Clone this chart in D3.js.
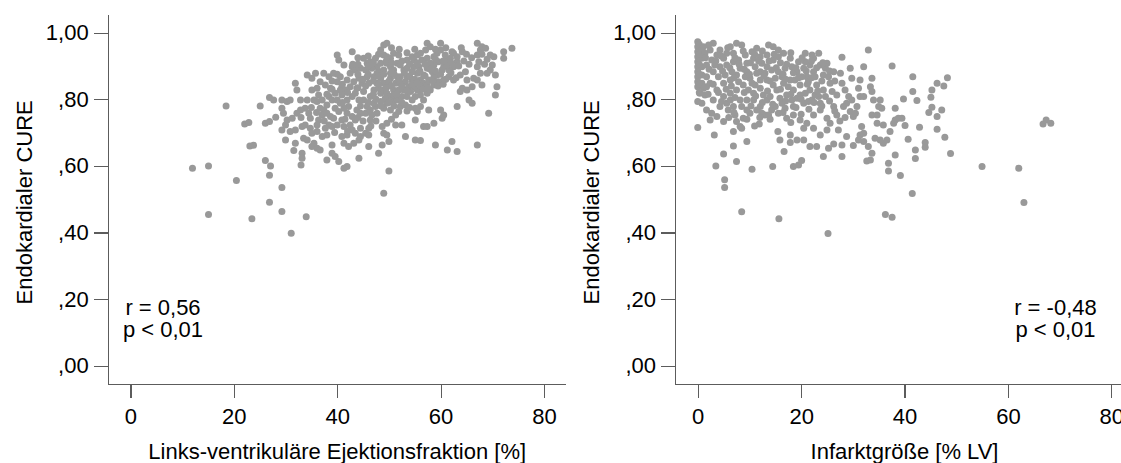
<!DOCTYPE html>
<html>
<head>
<meta charset="utf-8">
<script src="https://cdn.jsdelivr.net/npm/d3@7"></script>
<style>
  html, body { margin: 0; padding: 0; background: #fff; }
  svg { display: block; font-family: Arial, "Liberation Sans", sans-serif; }
</style>
</head>
<body>
<svg id="chart" width="1121" height="463"></svg>
<script>
// Endocardial CURE vs. LV ejection fraction [%, CURE]
const efPoints = [
  [12.0,0.593],[15.1,0.600],[15.1,0.454],[18.5,0.780],[20.5,0.556],[22.1,0.726],[22.9,0.730],[23.1,0.660],[23.8,0.662],[23.5,0.441],
  [25.1,0.780],[26.1,0.728],[26.9,0.805],[27.7,0.798],[26.1,0.616],[27.1,0.600],[26.9,0.572],[26.9,0.491],[26.9,0.733],[28.1,0.746],
  [29.3,0.798],[29.3,0.773],[30.3,0.793],[30.9,0.798],[29.6,0.758],[30.3,0.738],[31.3,0.743],[30.0,0.723],[29.3,0.708],[30.9,0.703],
  [31.9,0.708],[30.0,0.678],[31.9,0.668],[31.6,0.646],[33.2,0.638],[33.2,0.623],[33.0,0.603],[29.3,0.535],[29.3,0.463],[31.1,0.398],[34.0,0.447],
  [31.9,0.848],[32.2,0.828],[32.9,0.798],[33.8,0.773],[34.2,0.798],[34.5,0.758],[34.8,0.743],[33.2,0.718],[33.8,0.723],[34.8,0.713],
  [35.1,0.698],[33.5,0.683],[34.2,0.678],[35.5,0.668],[35.1,0.658],[36.1,0.653],[36.7,0.648],
  [34.2,0.873],[35.1,0.863],[35.8,0.878],[35.1,0.828],[35.5,0.798],[36.1,0.793],[36.4,0.813],[36.7,0.773],[37.4,0.768],[37.1,0.753],
  [36.4,0.738],[36.1,0.723],[38.0,0.758],[38.7,0.748],[38.4,0.723],[37.7,0.713],[38.0,0.693],
  [37.4,0.878],[38.4,0.868],[39.3,0.878],[37.7,0.843],[38.7,0.833],[38.4,0.808],[39.0,0.798],[40.0,0.798],[39.6,0.773],[40.3,0.763],
  [39.3,0.743],[39.0,0.718],[40.0,0.723],[41.3,0.718],[40.9,0.738],
  [40.0,0.933],[40.3,0.918],[41.3,0.903],[42.9,0.943],[40.6,0.868],[40.0,0.853],[40.9,0.838],[40.6,0.828],[40.9,0.813],[41.9,0.858],
  [42.5,0.878],[42.9,0.898],[43.5,0.888],[44.5,0.893],[45.1,0.923],[45.8,0.908],[44.2,0.863],[43.8,0.833],[42.9,0.808],[42.2,0.778],
  [41.3,0.773],[41.9,0.758],[42.9,0.748],[43.8,0.768],[44.5,0.758],[43.5,0.738],[42.5,0.723],[42.9,0.708],[43.5,0.698],[44.5,0.713],
  [41.9,0.693],[40.9,0.688],[41.3,0.668],[42.2,0.658],[43.2,0.668],[44.2,0.678],[44.5,0.688],[45.5,0.698],[46.1,0.713],[46.1,0.693],
  [46.4,0.738],[45.5,0.758],[45.8,0.778],[45.1,0.798],[46.4,0.808],[47.1,0.828],[46.1,0.848],[44.8,0.848],[47.7,0.848],[48.4,0.863],
  [47.1,0.868],[48.4,0.883],[47.7,0.898],[48.4,0.908],[47.4,0.923],[48.4,0.948],[49.0,0.963],[49.6,0.968],[49.0,0.933],[49.6,0.928],
  [50.3,0.923],[49.6,0.908],[50.3,0.898],[50.9,0.888],[51.6,0.908],[51.6,0.868],[50.3,0.863],[49.6,0.848],[49.0,0.828],[48.4,0.818],
  [49.6,0.818],[50.9,0.828],[50.3,0.808],[50.9,0.798],[49.6,0.788],[49.0,0.773],[50.3,0.768],[51.3,0.753],[51.9,0.763],[51.6,0.798],
  [52.2,0.778],[52.9,0.828],[52.2,0.848],[53.2,0.853],[53.8,0.838],[53.5,0.868],[52.9,0.888],[52.2,0.903],[53.5,0.918],[54.5,0.928],
  [54.8,0.918],[55.5,0.933],[56.1,0.938],[57.1,0.948],[57.4,0.968],[58.0,0.958],[59.3,0.938],[60.0,0.968],[60.0,0.948],[60.9,0.933],
  [61.3,0.918],[62.5,0.938],[62.2,0.943],[64.2,0.943],[63.2,0.913],[62.5,0.898],[61.6,0.888],[60.6,0.898],[59.6,0.913],[58.7,0.903],
  [58.0,0.908],[57.4,0.893],[56.7,0.873],[56.1,0.858],[54.8,0.898],[55.5,0.878],[54.5,0.858],[54.8,0.838],[55.5,0.828],[56.1,0.813],
  [56.7,0.798],[57.4,0.818],[58.0,0.828],[58.7,0.843],[59.6,0.853],[60.6,0.858],[61.6,0.868],[62.5,0.858],[63.8,0.873],[64.8,0.883],
  [65.1,0.858],[64.2,0.833],[63.8,0.823],[65.1,0.828],[66.1,0.838],[66.4,0.863],[67.1,0.858],[67.7,0.878],[68.0,0.843],[67.1,0.898],
  [67.4,0.913],[67.1,0.933],[67.7,0.948],[67.1,0.968],[68.0,0.958],[68.7,0.953],[69.6,0.933],[70.3,0.928],[70.0,0.903],[69.6,0.888],
  [69.0,0.878],[70.6,0.873],[70.9,0.838],[70.6,0.813],[72.2,0.943],[72.2,0.923],[73.8,0.953],[65.5,0.798],[66.1,0.788],[63.2,0.778],
  [69.3,0.758],[67.1,0.663],[62.2,0.673],[61.3,0.648],[63.2,0.643],[59.0,0.663],[57.4,0.718],[58.7,0.728],[56.7,0.718],[60.3,0.743],
  [60.6,0.753],[60.0,0.768],[57.7,0.768],[56.1,0.778],[55.1,0.773],[55.5,0.763],[55.1,0.738],[53.2,0.688],[53.2,0.783],[52.5,0.723],
  [51.3,0.723],[49.6,0.728],[48.7,0.718],[49.0,0.698],[49.6,0.693],[50.0,0.673],[48.7,0.663],[48.0,0.638],[46.1,0.658],[44.2,0.623],
  [41.9,0.598],[41.3,0.593],[40.3,0.613],[39.6,0.628],[39.0,0.638],[39.0,0.663],[38.0,0.618],[50.0,0.585],[49.0,0.518],[55.1,0.678],[56.1,0.676],
  [47.7,0.878],[49.0,0.888],[50.3,0.878],[51.3,0.848],[51.9,0.828],[52.5,0.808],[50.9,0.813],[49.0,0.848],[48.0,0.833],[49.3,0.803],
  [52.2,0.868],[53.5,0.893],[54.5,0.883],[55.8,0.898],[56.4,0.918],[57.4,0.923],[58.7,0.928],[58.4,0.883],[59.3,0.873],[60.3,0.888],
  [61.3,0.903],[61.9,0.923],[63.2,0.928],[56.7,0.848],[57.7,0.858],[58.7,0.868],[53.5,0.808],[54.5,0.798],[55.1,0.808],[56.1,0.838],
  [57.4,0.843],[54.2,0.823],[48.4,0.793],[47.4,0.778],[46.4,0.768],[47.1,0.788],[47.7,0.758],[46.7,0.753],[45.1,0.823],[44.2,0.798],
  [43.5,0.818],[42.5,0.838],[43.2,0.853],[41.6,0.828],[41.9,0.798],[40.6,0.788],[39.6,0.818],[38.0,0.783],[37.1,0.798],[36.1,0.833],
  [36.7,0.853],[32.9,0.768],[32.2,0.758],[36.1,0.703],[37.1,0.688],[45.8,0.868],[46.7,0.893],[46.4,0.913],[45.5,0.888],[50.9,0.938],[51.9,0.933],
  [44.0,0.875],[45.0,0.860],[46.0,0.875],[47.0,0.855],[48.0,0.870],[49.0,0.875],[50.0,0.855],[51.0,0.875],[52.0,0.855],[53.0,0.880],
  [54.0,0.870],[55.0,0.860],[56.0,0.885],[57.0,0.870],[58.0,0.890],[59.0,0.885],[60.0,0.875],[61.0,0.860],[62.0,0.880],[63.0,0.865],
  [44.0,0.835],[45.5,0.840],[47.0,0.815],[48.0,0.845],[49.5,0.835],[50.5,0.840],[51.5,0.815],[52.5,0.840],[53.5,0.825],[54.5,0.845],
  [55.5,0.850],[56.5,0.830],[57.5,0.835],[58.5,0.855],[59.5,0.840],[60.5,0.845],
  [43.0,0.905],[44.0,0.905],[46.0,0.900],[47.0,0.910],[49.5,0.915],[50.5,0.910],[52.5,0.915],[54.0,0.905],[55.5,0.910],[57.0,0.905],
  [59.0,0.920],[60.5,0.915],[62.0,0.910],[63.5,0.900],[64.5,0.915],[65.5,0.905],[66.0,0.925],[68.5,0.905],[69.0,0.920],[68.0,0.935],
  [65.0,0.935],[64.0,0.955],[61.0,0.955],[59.0,0.950],[55.0,0.950],[53.5,0.940],[52.0,0.950],[50.5,0.955],[48.0,0.935],[46.0,0.930],[44.0,0.925],
  [40.0,0.875],[39.0,0.855],[41.0,0.845],[42.0,0.820],[39.0,0.830],[38.0,0.815],[41.0,0.790],[44.5,0.780],[46.0,0.790],[48.5,0.780],
  [50.0,0.790],[52.5,0.790],[53.5,0.765],[54.0,0.775],[51.0,0.780],[47.5,0.800],[36.0,0.760],[35.0,0.775],[33.0,0.745],[37.5,0.735],
  [39.5,0.700],[42.0,0.705],[45.0,0.735],[47.5,0.735],[50.5,0.740],[46.5,0.720],[44.0,0.745],[41.5,0.740]
];

// Endocardial CURE vs. infarct size [% LV, CURE]
const infarctPoints = [
  [0,0.973],[0,0.958],[0,0.943],[0,0.928],[0,0.913],[0,0.898],[0,0.883],[0,0.868],[0,0.853],[0,0.838],
  [0.8,0.948],[0.8,0.923],[0.8,0.898],[0.8,0.873],[0.8,0.848],[0.3,0.965],[0.3,0.935],[0.3,0.905],[0.3,0.875],[0.3,0.845],[0.3,0.820],
  [0,0.793],[0,0.715],[1.4,0.813],[1.7,0.768],[2.7,0.758],[2.4,0.738],[3.2,0.693],[3.5,0.600],[5.0,0.636],[5.2,0.558],[5.2,0.535],
  [5.0,0.733],[6.9,0.703],[6.9,0.660],[7.5,0.613],[8.5,0.462],[8.2,0.718],[8.5,0.713],[9.5,0.673],[10.5,0.590],[14.5,0.598],[15.7,0.441],
  [11.9,0.726],[13.0,0.753],[14.3,0.768],[13.7,0.753],[15.5,0.703],[15.9,0.678],[16.7,0.643],[18.5,0.598],[19.5,0.603],[20.1,0.616],
  [17.9,0.670],[17.9,0.693],[19.2,0.678],[20.5,0.678],[21.7,0.658],[23.0,0.658],[24.3,0.628],[25.3,0.653],[26.3,0.666],
  [25.2,0.397],[23.7,0.693],[25.0,0.708],[25.6,0.728],[27.2,0.708],[26.9,0.813],[26.3,0.778],[26.9,0.753],[25.0,0.743],[23.7,0.768],
  [22.4,0.753],[21.1,0.728],[20.5,0.713],[19.8,0.738],[18.5,0.753],[17.2,0.743],[18.5,0.778],[19.2,0.803],[20.5,0.788],[22.1,0.798],
  [23.4,0.808],[24.3,0.828],[25.6,0.848],[26.3,0.883],[24.7,0.893],[25.0,0.908],[23.4,0.938],[22.4,0.923],[20.8,0.938],[23.7,0.903],
  [22.4,0.883],[21.1,0.868],[19.8,0.843],[18.5,0.828],[17.2,0.813],[15.9,0.803],[15.3,0.828],[16.6,0.848],[17.9,0.858],[19.2,0.883],
  [20.5,0.893],[21.7,0.903],[17.9,0.923],[16.6,0.938],[15.6,0.928],[13.7,0.963],[14.6,0.918],[13.4,0.898],[12.1,0.883],[13.4,0.858],
  [14.6,0.843],[12.1,0.833],[10.8,0.818],[9.5,0.798],[10.8,0.798],[12.1,0.778],[12.4,0.758],[10.1,0.758],[8.8,0.743],[7.5,0.733],
  [5.9,0.768],[5.6,0.788],[4.3,0.778],[3.0,0.798],[3.7,0.828],[2.4,0.848],[1.7,0.868],[3.0,0.883],[4.3,0.898],[5.6,0.903],
  [6.9,0.913],[5.6,0.938],[4.3,0.948],[3.0,0.968],[2.1,0.963],[3.7,0.933],[2.7,0.918],[1.7,0.903],[5.0,0.848],[6.3,0.858],
  [7.5,0.873],[8.2,0.893],[9.5,0.908],[10.8,0.923],[12.1,0.928],[13.4,0.933],[9.2,0.933],[8.5,0.963],[7.5,0.968],[6.3,0.958],
  [11.4,0.878],[10.1,0.863],[8.8,0.843],[7.5,0.828],[6.3,0.818],[5.0,0.808],[8.2,0.798],[6.9,0.778],[10.5,0.848],[9.5,0.883],
  [15.6,0.883],[16.9,0.893],[23.0,0.843],[21.7,0.828],[20.8,0.818],[23.7,0.788],[22.4,0.713],[16.3,0.788],[15.0,0.778],[13.4,0.798],
  [9.5,0.768],[4.6,0.793],[3.7,0.748],
  [1.1,0.958],[1.4,0.938],[2.4,0.948],[3.3,0.903],[4.0,0.868],[5.3,0.873],[6.6,0.883],[7.9,0.853],[9.2,0.868],[9.8,0.828],
  [11.1,0.843],[12.1,0.858],[13.0,0.878],[14.3,0.888],[15.0,0.863],[16.3,0.868],[17.5,0.838],[18.8,0.858],[20.1,0.868],[21.4,0.853],
  [22.7,0.868],[24.3,0.873],[25.3,0.868],[26.0,0.823],[24.7,0.808],[22.7,0.813],[21.4,0.793],[19.8,0.813],[18.2,0.798],[16.9,0.773],
  [15.6,0.758],[14.0,0.808],[12.7,0.813],[11.4,0.768],[8.5,0.778],[7.2,0.753],[6.3,0.798],[18.2,0.898],[19.5,0.913],[20.8,0.913],
  [22.1,0.933],[14.6,0.958],[15.6,0.948],[11.4,0.953],[10.5,0.943],[12.4,0.908],[11.1,0.898],[6.9,0.938],[7.9,0.918],[5.0,0.923],
  [0.4,0.818],[1.1,0.833],[0.8,0.788],[1.7,0.838],
  [1.5,0.925],[2.2,0.890],[3.5,0.915],[4.5,0.930],[4.8,0.885],[5.8,0.955],[6.2,0.895],[7.2,0.925],[7.0,0.865],[8.0,0.905],
  [8.8,0.945],[9.0,0.890],[10.2,0.910],[10.0,0.875],[11.0,0.935],[11.8,0.915],[12.5,0.945],[12.8,0.870],[13.8,0.915],[14.0,0.855],
  [14.8,0.935],[15.2,0.895],[16.0,0.910],[16.5,0.875],[17.2,0.905],[17.0,0.860],[18.0,0.940],[18.5,0.880],[19.0,0.895],[19.5,0.865],
  [20.2,0.925],[21.0,0.885],[21.2,0.845],[22.0,0.915],[22.0,0.865],[23.0,0.895],[23.2,0.825],[24.0,0.855],[24.2,0.910],[25.5,0.885],
  [26.5,0.855],[2.0,0.815],[3.0,0.845],[4.0,0.820],[5.5,0.830],[6.5,0.840],[7.2,0.805],[9.0,0.820],[10.3,0.780],[11.2,0.810],
  [12.5,0.790],[13.5,0.825],[14.5,0.785],[16.0,0.830],[17.0,0.795],[18.0,0.815],[19.0,0.775],[20.0,0.800],[21.5,0.770],[22.5,0.790],
  [24.0,0.780],[25.5,0.795],[26.5,0.765],[28.5,0.745],[27.5,0.735],[16.5,0.760],[18.0,0.730],[20.0,0.755],[14.0,0.740],[12.0,0.745],
  [11.0,0.720],[9.5,0.740],[7.0,0.760],[6.0,0.745],
  [27.9,0.926],[27.6,0.878],[27.9,0.848],[28.5,0.828],[29.2,0.808],[28.8,0.788],[28.2,0.778],[29.5,0.763],[30.1,0.748],[29.8,0.798],
  [30.8,0.778],[30.5,0.758],[31.4,0.808],[32.1,0.808],[31.1,0.833],[31.4,0.858],[29.8,0.863],[29.5,0.893],[32.1,0.898],[33.0,0.948],
  [33.7,0.863],[33.4,0.838],[33.7,0.823],[34.0,0.798],[35.3,0.798],[35.0,0.778],[35.6,0.773],[33.7,0.753],[34.7,0.753],[34.7,0.728],
  [35.9,0.723],[38.2,0.773],[39.8,0.801],[37.6,0.900],[41.6,0.868],[41.6,0.823],[42.4,0.796],[45.3,0.828],[46.3,0.848],[47.6,0.840],
  [48.3,0.865],[45.1,0.806],[45.3,0.776],[44.7,0.760],[47.2,0.768],[46.3,0.748],[38.2,0.738],[38.8,0.743],[39.5,0.743],[37.9,0.728],
  [40.1,0.721],[42.9,0.716],[46.3,0.710],[47.8,0.686],[48.9,0.637],[44.0,0.670],[44.0,0.656],[42.1,0.648],[42.1,0.622],[40.7,0.680],
  [38.2,0.633],[36.9,0.608],[36.9,0.585],[39.2,0.571],[41.5,0.517],[36.3,0.454],[37.6,0.446],[55.0,0.598],[62.1,0.593],[63.1,0.490],
  [66.8,0.726],[67.4,0.738],[68.3,0.728],[35.9,0.668],[35.3,0.678],[34.3,0.683],[33.7,0.638],[33.4,0.618],[32.7,0.615],[33.0,0.658],
  [32.1,0.673],[31.1,0.678],[30.1,0.661],[28.8,0.688],[27.9,0.663],[27.9,0.628],[31.4,0.693],[31.7,0.718],[32.1,0.698],[37.2,0.703],[36.6,0.678]
];

const yTicks = [0, 0.2, 0.4, 0.6, 0.8, 1.0];
const xTicks = [0, 20, 40, 60, 80];
const yTitle = "Endokardialer CURE";

const panels = [
  { points: efPoints, left: 107.7, xTitle: "Links-ventrikuläre Ejektionsfraktion [%]",
    stats: ["r = 0,56", "p < 0,01"], statsX: 6.3 },
  { points: infarctPoints, left: 675, xTitle: "Infarktgröße [% LV]",
    stats: ["r = -0,48", "p < 0,01"], statsX: 69.2 }
];

const svg = d3.select("#chart");
const axisColor = "#5c5c5c";
const dotColor = "#999999";
const plotTop = 14.7, plotBottom = 384, plotW = 458;

// German decimal comma, leading zero dropped: 0.8 -> ",80", 1 -> "1,00"
const fmtY = v => d3.format(".2f")(v).replace(".", ",").replace(/^0/, "");

const y = d3.scaleLinear().domain([-0.055, 1.054]).range([plotBottom, plotTop]);

panels.forEach(p => {
  const x = d3.scaleLinear().domain([-4.4, 84.2]).range([p.left, p.left + plotW]);
  const g = svg.append("g");

  // points
  g.append("g").selectAll("circle").data(p.points).join("circle")
    .attr("cx", d => x(d[0])).attr("cy", d => y(d[1]))
    .attr("r", 3.5).attr("fill", dotColor);

  // y axis
  const ya = g.append("g").attr("transform", `translate(${p.left},0)`)
    .call(d3.axisLeft(y).tickValues(yTicks).tickFormat(fmtY).tickSize(14).tickSizeOuter(0).tickPadding(5));
  // x axis
  const xa = g.append("g").attr("transform", `translate(0,${plotBottom})`)
    .call(d3.axisBottom(x).tickValues(xTicks).tickFormat(d3.format("d")).tickSize(14).tickSizeOuter(0).tickPadding(10));

  [ya, xa].forEach(a => {
    a.select(".domain").attr("stroke", axisColor).attr("stroke-width", 1.2).attr("shape-rendering", "crispEdges");
    a.selectAll(".tick line").attr("stroke", axisColor).attr("stroke-width", 1.2).attr("shape-rendering", "crispEdges");
    a.selectAll(".tick text").attr("fill", "#000").style("font-size", "22px")
      .style("font-family", "Arial, 'Liberation Sans', sans-serif");
  });

  // axis titles
  g.append("text")
    .attr("x", x(40)).attr("y", 459)
    .attr("text-anchor", "middle").style("font-size", "22px").attr("fill", "#000")
    .text(p.xTitle);
  g.append("text")
    .attr("transform", `translate(${p.left - 76},${(plotTop + plotBottom) / 2 + 3}) rotate(-90)`)
    .attr("text-anchor", "middle").style("font-size", "22px").attr("fill", "#000")
    .text(yTitle);

  // correlation annotation
  const st = g.append("text").attr("text-anchor", "middle").style("font-size", "22px").attr("fill", "#000");
  p.stats.forEach((s, i) => {
    st.append("tspan").attr("x", x(p.statsX)).attr("y", 315 + i * 22).text(s);
  });
});
</script>
</body>
</html>
